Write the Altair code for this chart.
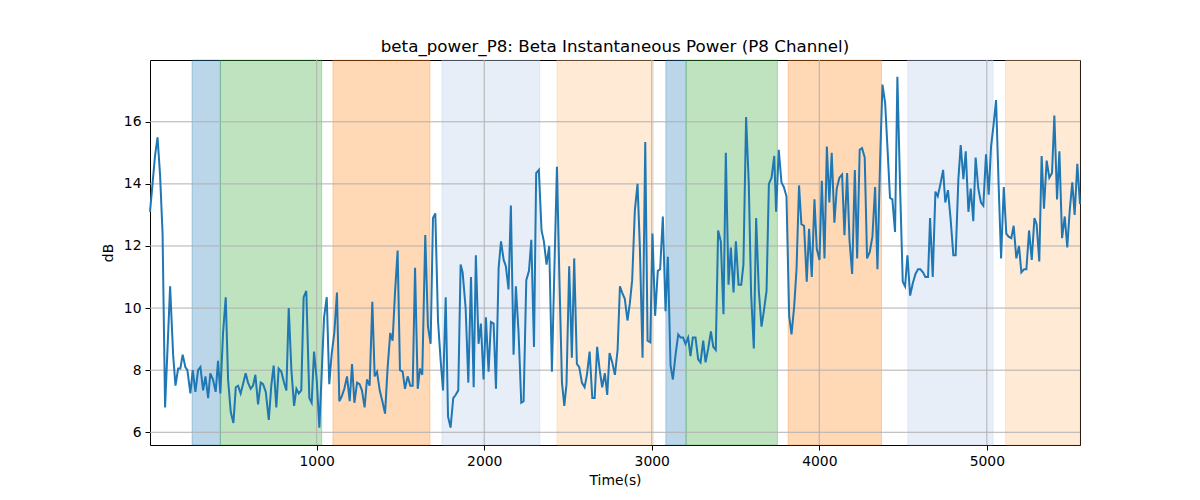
import pandas as pd
import altair as alt

FONT = "DejaVu Sans"
LINE_BLUE = "#1f77b4"
GRID_GRAY = "#b0b0b0"

# beta power trace (time in s, power in dB)
times = [
    5, 20, 35, 50, 65, 80, 95, 125, 143, 157, 173, 186, 200, 216, 228, 246, 260, 276, 292, 306,
    322, 336, 352, 365, 381, 397, 411, 425, 441, 457, 471, 487, 503, 517, 531, 546, 560, 576, 590, 606,
    620, 634, 650, 666, 680, 696, 714, 729, 743, 759, 773, 789, 805, 819, 833, 849, 865, 879, 893, 908,
    922, 938, 956, 970, 984, 1000, 1016, 1044, 1060, 1075, 1089, 1105, 1121, 1135, 1149, 1165, 1181, 1197, 1211, 1225,
    1241, 1256, 1270, 1286, 1300, 1316, 1332, 1346, 1360, 1376, 1392, 1408, 1423, 1439, 1453, 1467, 1483, 1497, 1513, 1527,
    1543, 1559, 1573, 1587, 1603, 1616, 1630, 1648, 1664, 1680, 1694, 1708, 1724, 1740, 1754, 1770, 1784, 1799, 1815, 1829,
    1845, 1859, 1871, 1889, 1905, 1921, 1937, 1950, 1966, 1980, 1996, 2010, 2026, 2040, 2056, 2070, 2086, 2100, 2116, 2129,
    2145, 2159, 2175, 2189, 2205, 2221, 2235, 2251, 2267, 2281, 2297, 2310, 2326, 2342, 2356, 2372, 2388, 2404, 2418, 2434,
    2448, 2464, 2478, 2491, 2507, 2523, 2537, 2553, 2567, 2583, 2599, 2613, 2629, 2645, 2659, 2674, 2688, 2704, 2720, 2734,
    2748, 2764, 2780, 2796, 2810, 2823, 2839, 2855, 2869, 2883, 2899, 2915, 2929, 2945, 2961, 2975, 2991, 3004, 3020, 3036,
    3050, 3066, 3082, 3096, 3112, 3126, 3142, 3158, 3172, 3187, 3201, 3217, 3231, 3245, 3261, 3277, 3291, 3307, 3321, 3337,
    3353, 3367, 3382, 3396, 3412, 3428, 3442, 3458, 3472, 3488, 3502, 3518, 3534, 3547, 3563, 3579, 3593, 3609, 3623, 3639,
    3655, 3669, 3685, 3699, 3715, 3731, 3742, 3758, 3774, 3788, 3804, 3820, 3834, 3850, 3864, 3879, 3893, 3909, 3925, 3939,
    3955, 3971, 3985, 4001, 4015, 4031, 4045, 4060, 4074, 4090, 4104, 4120, 4136, 4150, 4166, 4180, 4196, 4212, 4226, 4241,
    4255, 4271, 4285, 4301, 4317, 4333, 4347, 4363, 4377, 4393, 4406, 4422, 4436, 4452, 4466, 4482, 4498, 4512, 4526, 4542,
    4558, 4574, 4589, 4603, 4619, 4633, 4649, 4661, 4677, 4693, 4707, 4723, 4739, 4752, 4768, 4784, 4800, 4814, 4830, 4844,
    4860, 4874, 4890, 4904, 4919, 4933, 4949, 4965, 4979, 4995, 5011, 5025, 5041, 5055, 5071, 5085, 5101, 5116, 5130, 5146,
    5160, 5176, 5192, 5206, 5222, 5236, 5252, 5268, 5284, 5297, 5313, 5327, 5341, 5357, 5373, 5389, 5403, 5419, 5433, 5449,
    5465, 5480, 5494, 5510, 5524, 5540, 5556,
]
power_db = [
    13.1, 14.0, 14.9, 15.5, 14.3, 12.4, 6.8, 10.7, 8.5, 7.5, 8.05, 8.05, 8.5, 8.1, 8.0, 7.25, 8.0, 7.3, 8.0, 8.1,
    7.35, 7.8, 7.1, 7.9, 7.7, 7.3, 8.3, 7.25, 9.2, 10.35, 7.7, 6.65, 6.3, 7.45, 7.5, 7.25, 7.55, 7.9, 7.6, 7.4,
    7.5, 7.85, 6.9, 7.6, 7.55, 7.3, 6.4, 7.5, 8.15, 6.8, 8.05, 7.95, 7.6, 7.35, 10.0, 8.0, 6.85, 7.4, 7.25, 7.35,
    10.35, 10.55, 7.1, 6.95, 8.6, 7.7, 6.15, 9.7, 10.35, 7.55, 8.5, 9.2, 10.5, 7.0, 7.15, 7.4, 7.8, 7.0, 8.2, 6.95,
    7.6, 7.55, 7.35, 6.8, 7.7, 7.5, 10.2, 7.8, 7.95, 7.35, 7.0, 6.6, 8.05, 9.2, 8.95, 10.45, 11.85, 8.0, 7.95, 7.4,
    7.8, 7.5, 7.5, 11.3, 7.4, 8.05, 7.85, 12.35, 9.4, 8.85, 12.9, 13.05, 9.6, 8.3, 7.35, 10.35, 6.5, 6.15, 7.1, 7.2,
    7.35, 11.4, 11.15, 10.0, 7.6, 11.0, 7.45, 11.7, 8.85, 9.5, 7.7, 9.7, 7.95, 9.55, 9.5, 7.4, 11.3, 12.15, 11.55, 11.35,
    10.6, 13.3, 8.5, 10.7, 9.2, 6.95, 7.0, 10.9, 11.2, 12.2, 8.75, 14.35, 14.45, 12.5, 12.15, 11.4, 12.0, 7.95, 11.1, 14.55,
    11.1, 7.6, 6.85, 7.55, 11.35, 8.4, 11.6, 8.2, 8.1, 7.6, 7.45, 7.85, 8.6, 7.1, 7.1, 8.75, 8.05, 7.45, 7.9, 7.2,
    8.55, 8.25, 7.85, 8.65, 10.7, 10.5, 10.3, 9.6, 10.15, 10.9, 13.15, 14.0, 11.95, 8.4, 15.35, 8.95, 8.9, 12.4, 9.75, 11.2,
    11.25, 12.95, 9.9, 11.65, 8.15, 7.7, 8.5, 9.15, 9.05, 9.05, 8.85, 9.05, 8.45, 9.05, 9.05, 8.35, 8.25, 8.95, 8.25, 8.7,
    9.25, 8.75, 8.65, 12.5, 12.15, 9.8, 15.0, 10.75, 11.95, 10.5, 12.15, 10.75, 10.75, 11.4, 16.15, 14.0, 10.45, 8.7, 12.9, 10.55,
    9.4, 9.9, 10.55, 14.0, 14.2, 14.9, 13.1, 15.1, 14.05, 13.9, 13.6, 9.75, 9.15, 10.05, 11.25, 13.95, 12.7, 12.65, 10.85, 12.55,
    11.0, 13.5, 11.9, 11.55, 14.1, 11.6, 15.2, 13.4, 15.0, 12.75, 13.85, 14.2, 14.3, 12.35, 14.35, 12.2, 11.1, 14.45, 11.6, 15.1,
    15.15, 14.85, 11.6, 11.8, 12.3, 13.9, 11.25, 14.8, 17.2, 16.6, 15.25, 13.55, 13.5, 12.45, 17.45, 13.9, 10.85, 10.7, 11.7, 10.4,
    10.8, 11.1, 11.25, 11.25, 11.15, 11.0, 11.0, 12.9, 11.0, 13.75, 13.6, 14.0, 14.45, 13.4, 13.8, 12.85, 11.7, 11.7, 14.15, 15.25,
    14.15, 15.05, 13.1, 13.85, 12.8, 14.85, 13.85, 13.4, 13.3, 14.95, 13.65, 15.2, 15.95, 16.7, 13.85, 11.6, 13.9, 12.4, 12.3, 12.25,
    12.65, 11.6, 12.0, 11.15, 11.25, 11.25, 12.5, 11.55, 12.9, 12.7, 11.5, 14.9, 13.2, 14.75, 14.2, 14.35, 16.2, 13.5, 15.05, 12.25,
    12.95, 11.95, 13.1, 14.05, 13.0, 14.65, 13.35,
]

# shaded stages
span_start = [256, 425, 1097, 1748, 2434, 3084, 3205, 3814, 4528, 5112]
span_end = [425, 1030, 1676, 2332, 3010, 3205, 3750, 4371, 5037, 5556]
span_color = ["#1f77b4", "#2ca02c", "#ff7f0e", "#aec7e8", "#ffbb78",
              "#1f77b4", "#2ca02c", "#ff7f0e", "#aec7e8", "#ffbb78"]

x_ticks = [1000, 2000, 3000, 4000, 5000]
y_ticks = [6, 8, 10, 12, 14, 16]

X_DOMAIN = [5, 5556]
Y_DOMAIN = [5.59, 17.99]

trace = pd.DataFrame({"t": times, "db": power_db})
spans = pd.DataFrame({"start": span_start, "end": span_end, "color": span_color})

x_scale = alt.Scale(domain=X_DOMAIN, nice=False, zero=False)
y_scale = alt.Scale(domain=Y_DOMAIN, nice=False, zero=False)

shade = alt.Chart(spans).mark_rect(
    fillOpacity=0.3, strokeOpacity=0.3, strokeWidth=1
).encode(
    x=alt.X("start:Q", scale=x_scale),
    x2="end:Q",
    fill=alt.Fill("color:N", scale=None),
    stroke=alt.Stroke("color:N", scale=None),
)

vgrid = alt.Chart(pd.DataFrame({"v": x_ticks})).mark_rule(
    color=GRID_GRAY, strokeWidth=1
).encode(x=alt.X("v:Q", scale=x_scale))

hgrid = alt.Chart(pd.DataFrame({"v": y_ticks})).mark_rule(
    color=GRID_GRAY, strokeWidth=1
).encode(y=alt.Y("v:Q", scale=y_scale))

line = alt.Chart(trace).mark_line(color=LINE_BLUE, strokeWidth=2).encode(
    x=alt.X("t:Q", scale=x_scale, title="Time(s)",
            axis=alt.Axis(values=x_ticks, grid=False, format="d")),
    y=alt.Y("db:Q", scale=y_scale, title="dB",
            axis=alt.Axis(values=y_ticks, grid=False, format="d")),
)

chart = alt.layer(shade, vgrid, hgrid, line).properties(
    width=930,
    height=385,
    padding={"left": 142, "top": 52, "right": 112, "bottom": 55},
    autosize=alt.AutoSizeParams(type="none"),
    title=alt.TitleParams(
        "beta_power_P8: Beta Instantaneous Power (P8 Channel)",
        font=FONT, fontSize=16.7, fontWeight="normal", color="black",
        anchor="middle", offset=-9, baseline="alphabetic",
    ),
).configure_view(
    stroke="black", strokeWidth=1
).configure_axis(
    labelFont=FONT, labelFontSize=13.9, labelColor="black",
    titleFont=FONT, titleFontSize=13.9, titleColor="black", titleFontWeight="normal",
    tickColor="black", tickSize=5, tickWidth=1, domain=False,
    labelPadding=4,
).configure_axisX(
    titlePadding=6
).configure_axisY(
    titlePadding=8
)

chart.save("out.html", embed_options={"renderer": "svg", "actions": False})
